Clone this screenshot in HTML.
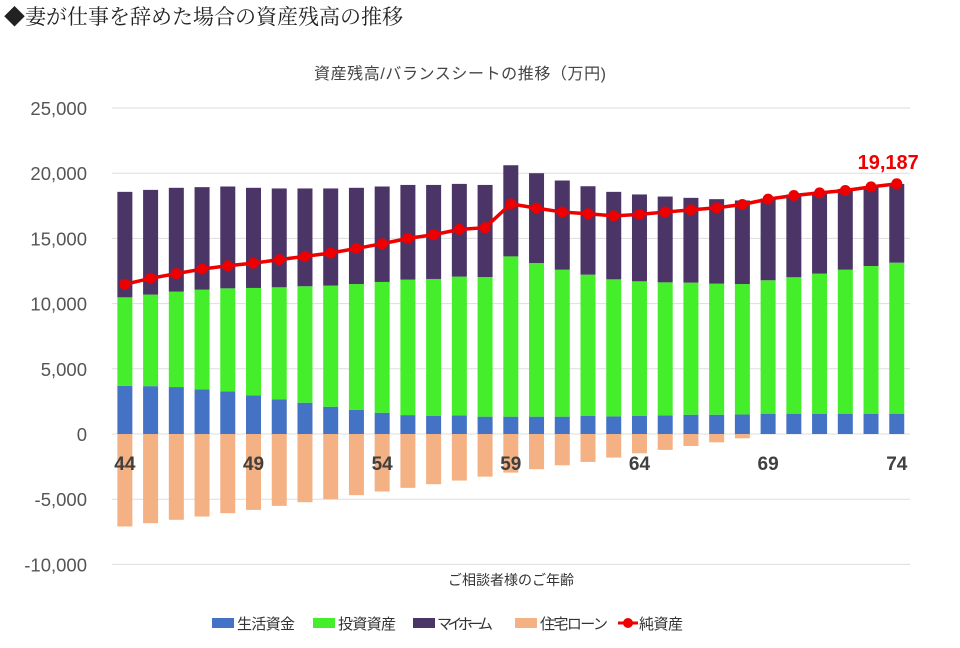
<!DOCTYPE html>
<html><head><meta charset="utf-8">
<style>
body{margin:0;background:#fff;width:960px;height:643px;overflow:hidden}
svg text{font-family:"Liberation Sans","Noto Sans CJK JP",sans-serif}
</style></head>
<body>
<svg id="chart" width="960" height="643" viewBox="0 0 960 643" xmlns="http://www.w3.org/2000/svg">
<text x="4" y="24" font-size="21" fill="#222" style="font-family:'Liberation Serif','Noto Serif CJK SC',serif">◆妻が仕事を辞めた場合の資産残高の推移</text>
<text x="460" y="79" font-size="16" fill="#444" text-anchor="middle" textLength="292">資産残高/バランスシートの推移（万円)</text>
<g id="grid"></g><g id="bars"></g><g id="line"></g><g id="labels"></g>
<text x="511" y="585" font-size="14" fill="#333" text-anchor="middle">ご相談者様のご年齢</text>
<g font-size="15" fill="#333">
<g><rect x="212" y="618" width="22" height="10" fill="#4472C4"/><text x="237" y="629" textLength="58">生活資金</text></g>
<g><rect x="313" y="618" width="22" height="10" fill="#44EE2A"/><text x="338" y="629" textLength="58">投資資産</text></g>
<g><rect x="413" y="618" width="22" height="10" fill="#4B3466"/><text x="437" y="629" textLength="56">マイホーム</text></g>
<g><rect x="515" y="618" width="22" height="10" fill="#F4B183"/><text x="540" y="629" textLength="68">住宅ローン</text></g>
<g><line x1="618" y1="623" x2="638" y2="623" stroke="#EE0000" stroke-width="3"/><circle cx="628" cy="623" r="5" fill="#EE0000"/><text x="639" y="629" textLength="44">純資産</text></g>
</g>
</svg>
<script>
const ages=[44,45,46,47,48,49,50,51,52,53,54,55,56,57,58,59,60,61,62,63,64,65,66,67,68,69,70,71,72,73,74];
const living=[3.7,3.67,3.6,3.42,3.27,2.96,2.65,2.4,2.09,1.86,1.63,1.45,1.38,1.43,1.33,1.33,1.33,1.33,1.38,1.35,1.38,1.43,1.48,1.48,1.5,1.56,1.56,1.56,1.56,1.56,1.56];
const investTop=[10.48,10.69,10.92,11.07,11.17,11.2,11.25,11.33,11.38,11.5,11.66,11.84,11.89,12.07,12.04,13.62,13.11,12.6,12.22,11.86,11.71,11.63,11.61,11.53,11.5,11.79,12.02,12.3,12.6,12.88,13.14];
const totalTop=[18.57,18.72,18.88,18.93,18.98,18.88,18.83,18.83,18.83,18.88,18.98,19.1,19.1,19.18,19.1,20.61,20.0,19.44,19.0,18.57,18.37,18.21,18.11,18.01,17.91,18.06,18.37,18.57,18.8,18.98,19.18];
const loan=[-7.09,-6.84,-6.58,-6.33,-6.07,-5.82,-5.51,-5.23,-5.0,-4.69,-4.41,-4.13,-3.85,-3.57,-3.27,-2.96,-2.7,-2.4,-2.14,-1.81,-1.48,-1.22,-0.92,-0.64,-0.33,0,0,0,0,0,0];
const net=[11.48,11.94,12.3,12.65,12.9,13.1,13.37,13.62,13.88,14.23,14.59,15.0,15.28,15.69,15.82,17.65,17.32,17.02,16.89,16.73,16.84,17.02,17.19,17.35,17.6,18.01,18.29,18.49,18.67,18.95,19.187];
const yTicks=[25000,20000,15000,10000,5000,0,-5000,-10000];
const yTickLabels=["25,000","20,000","15,000","10,000","5,000","0","-5,000","-10,000"];
const finalLabel="19,187";
const NS="http://www.w3.org/2000/svg";
const y=v=>434-v*13.04; // v in thousands
const yv=v=>y(v/1000);
const x0=112,band=25.73;
const x=i=>x0+band*(i+0.5);
function mk(tag,attrs,parent){const e=document.createElementNS(NS,tag);for(const k in attrs)e.setAttribute(k,attrs[k]);parent.appendChild(e);return e;}
const grid=document.getElementById('grid'),bars=document.getElementById('bars'),line=document.getElementById('line'),labels=document.getElementById('labels');
yTicks.forEach((t,i)=>{
  const g=mk('line',{x1:112,x2:910,y1:yv(t),y2:yv(t),stroke:'#ddd','stroke-width':1},grid);
  
  
  const tx=mk('text',{x:87,y:yv(t)+7,'font-size':18.5,fill:'#555','text-anchor':'end'},labels);
  tx.textContent=yTickLabels[i];
  
  
});
const w=15;
ages.forEach((a,i)=>{
  const cx=x(i);
  const segs=[[0,living[i],'#4472C4','bar-living-funds'],[living[i],investTop[i],'#44EE2A','bar-investment'],[investTop[i],totalTop[i],'#4B3466','bar-my-home'],[loan[i],0,'#F4B183','bar-home-loan']];
  segs.forEach(s=>{
    if(s[1]-s[0]<=0)return;
    const r=mk('rect',{x:cx-w/2,y:y(s[1]),width:w,height:y(s[0])-y(s[1]),fill:s[2]},bars);
    
    
  });
  if((a-44)%5===0){
    const t=mk('text',{x:cx,y:470,'font-size':19,'font-weight':'bold',fill:'#404040','text-anchor':'middle'},labels);
    t.textContent=a;
    
    
  }
});
const pl=mk('polyline',{points:net.map((v,i)=>x(i)+','+y(v)).join(' '),fill:'none',stroke:'#EE0000','stroke-width':3.5},line);


net.forEach((v,i)=>{
  const c=mk('circle',{cx:x(i),cy:y(v),r:5.5,fill:'#EE0000'},line);
  
  
});
const lbl=mk('text',{x:x(net.length-1)+22,y:y(net[net.length-1])-15,'font-size':20,'font-weight':'bold',fill:'#EE0000','text-anchor':'end'},labels);
lbl.textContent=finalLabel;


</script>
</body></html>
